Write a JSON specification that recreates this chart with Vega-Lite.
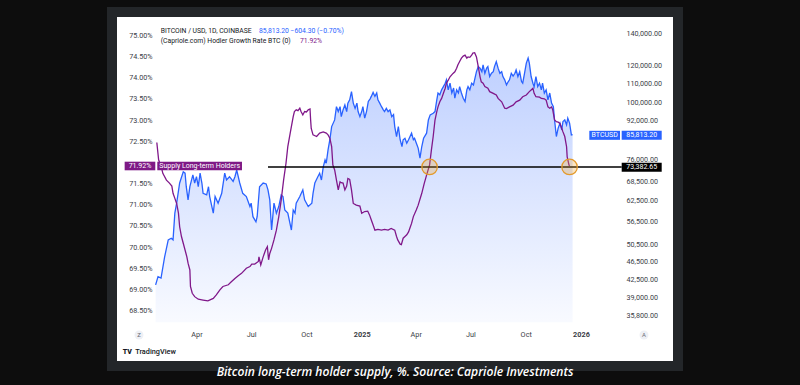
{
  "$schema": "https://vega.github.io/schema/vega-lite/v6.json",
  "width": 566,
  "height": 354,
  "autosize": {"type": "none"},
  "padding": {"left": 112, "top": 12, "right": 122, "bottom": 19},
  "background": "#0d0d0d",
  "config": {
    "view": {"fill": "#ffffff", "stroke": "#232629", "strokeWidth": 10},
    "font": "Roboto",
    "axis": {"zindex": 1, "labelOverlap": false}
  },
  "title": {
    "text": "Bitcoin long-term holder supply, %. Source: Capriole Investments",
    "orient": "bottom",
    "anchor": "middle",
    "frame": "group",
    "color": "#ffffff",
    "font": "Open Sans",
    "fontSize": 12.1,
    "fontStyle": "italic",
    "fontWeight": 600,
    "offset": 0
  },
  "datasets": {
    "btc": [
      {"date":"2024-01-24","price":41500},{"date":"2024-01-28","price":43200},{"date":"2024-02-02","price":42900},{"date":"2024-02-08","price":47500},{"date":"2024-02-14","price":51600},{"date":"2024-02-19","price":52000},{"date":"2024-02-22","price":51600},{"date":"2024-02-25","price":58700},{"date":"2024-02-28","price":61600},{"date":"2024-03-04","price":67900},{"date":"2024-03-10","price":71700},{"date":"2024-03-13","price":71200},{"date":"2024-03-15","price":66700},{"date":"2024-03-18","price":62600},{"date":"2024-03-21","price":66700},{"date":"2024-03-26","price":70600},{"date":"2024-03-29","price":67900},{"date":"2024-04-01","price":70000},{"date":"2024-04-04","price":66700},{"date":"2024-04-07","price":71200},{"date":"2024-04-10","price":67900},{"date":"2024-04-12","price":64600},{"date":"2024-04-18","price":64100},{"date":"2024-04-21","price":66700},{"date":"2024-04-23","price":63600},{"date":"2024-04-29","price":58700},{"date":"2024-05-02","price":63600},{"date":"2024-05-07","price":61600},{"date":"2024-05-13","price":64600},{"date":"2024-05-18","price":71200},{"date":"2024-05-21","price":68900},{"date":"2024-05-26","price":70000},{"date":"2024-06-01","price":68400},{"date":"2024-06-04","price":70000},{"date":"2024-06-07","price":72300},{"date":"2024-06-12","price":67900},{"date":"2024-06-17","price":64600},{"date":"2024-06-23","price":63600},{"date":"2024-06-29","price":60600},{"date":"2024-07-01","price":61600},{"date":"2024-07-04","price":57700},{"date":"2024-07-09","price":56300},{"date":"2024-07-11","price":57700},{"date":"2024-07-15","price":66700},{"date":"2024-07-21","price":67900},{"date":"2024-07-26","price":67600},{"date":"2024-07-29","price":65700},{"date":"2024-08-01","price":62600},{"date":"2024-08-04","price":54100},{"date":"2024-08-08","price":61600},{"date":"2024-08-12","price":58700},{"date":"2024-08-16","price":60600},{"date":"2024-08-20","price":64100},{"date":"2024-08-23","price":63600},{"date":"2024-08-26","price":59600},{"date":"2024-08-31","price":58700},{"date":"2024-09-06","price":54100},{"date":"2024-09-09","price":59600},{"date":"2024-09-12","price":58700},{"date":"2024-09-14","price":61600},{"date":"2024-09-20","price":63600},{"date":"2024-09-25","price":65700},{"date":"2024-09-28","price":62600},{"date":"2024-10-04","price":60600},{"date":"2024-10-10","price":61600},{"date":"2024-10-12","price":64600},{"date":"2024-10-15","price":67900},{"date":"2024-10-20","price":70000},{"date":"2024-10-23","price":71200},{"date":"2024-10-26","price":68900},{"date":"2024-10-29","price":73400},{"date":"2024-11-01","price":75900},{"date":"2024-11-03","price":74700},{"date":"2024-11-06","price":79700},{"date":"2024-11-09","price":83700},{"date":"2024-11-12","price":89200},{"date":"2024-11-17","price":92100},{"date":"2024-11-20","price":98200},{"date":"2024-11-23","price":95900},{"date":"2024-11-26","price":98200},{"date":"2024-11-28","price":93600},{"date":"2024-12-01","price":96700},{"date":"2024-12-04","price":99000},{"date":"2024-12-07","price":95900},{"date":"2024-12-09","price":99900},{"date":"2024-12-12","price":101500},{"date":"2024-12-15","price":105600},{"date":"2024-12-18","price":99900},{"date":"2024-12-21","price":97400},{"date":"2024-12-24","price":99900},{"date":"2024-12-26","price":95900},{"date":"2024-12-29","price":93600},{"date":"2025-01-01","price":95900},{"date":"2025-01-03","price":98200},{"date":"2025-01-06","price":92900},{"date":"2025-01-09","price":95900},{"date":"2025-01-12","price":100700},{"date":"2025-01-15","price":102000},{"date":"2025-01-17","price":103200},{"date":"2025-01-20","price":105200},{"date":"2025-01-23","price":103200},{"date":"2025-01-26","price":104900},{"date":"2025-01-28","price":101500},{"date":"2025-01-31","price":99900},{"date":"2025-02-03","price":98200},{"date":"2025-02-06","price":96700},{"date":"2025-02-08","price":95900},{"date":"2025-02-11","price":97400},{"date":"2025-02-14","price":95900},{"date":"2025-02-17","price":96700},{"date":"2025-02-20","price":93600},{"date":"2025-02-23","price":94500},{"date":"2025-02-25","price":89200},{"date":"2025-02-28","price":85000},{"date":"2025-03-03","price":89200},{"date":"2025-03-06","price":83700},{"date":"2025-03-09","price":81000},{"date":"2025-03-11","price":83700},{"date":"2025-03-14","price":84300},{"date":"2025-03-17","price":82300},{"date":"2025-03-20","price":83700},{"date":"2025-03-25","price":86400},{"date":"2025-03-28","price":83700},{"date":"2025-03-30","price":84300},{"date":"2025-04-02","price":82300},{"date":"2025-04-05","price":80400},{"date":"2025-04-08","price":76600},{"date":"2025-04-11","price":81000},{"date":"2025-04-14","price":84300},{"date":"2025-04-19","price":86400},{"date":"2025-04-22","price":92100},{"date":"2025-04-25","price":94400},{"date":"2025-04-30","price":95100},{"date":"2025-05-03","price":95900},{"date":"2025-05-06","price":101500},{"date":"2025-05-08","price":104900},{"date":"2025-05-11","price":104000},{"date":"2025-05-14","price":106500},{"date":"2025-05-17","price":108200},{"date":"2025-05-20","price":110000},{"date":"2025-05-22","price":111800},{"date":"2025-05-25","price":106500},{"date":"2025-05-28","price":110000},{"date":"2025-05-31","price":104900},{"date":"2025-06-03","price":107500},{"date":"2025-06-05","price":102300},{"date":"2025-06-08","price":106500},{"date":"2025-06-11","price":104900},{"date":"2025-06-13","price":108200},{"date":"2025-06-16","price":104900},{"date":"2025-06-19","price":102300},{"date":"2025-06-22","price":100700},{"date":"2025-06-25","price":106500},{"date":"2025-06-27","price":108200},{"date":"2025-06-30","price":106500},{"date":"2025-07-03","price":110000},{"date":"2025-07-06","price":109100},{"date":"2025-07-11","price":116300},{"date":"2025-07-14","price":119200},{"date":"2025-07-17","price":118300},{"date":"2025-07-20","price":116300},{"date":"2025-07-22","price":120200},{"date":"2025-07-25","price":115400},{"date":"2025-07-28","price":118300},{"date":"2025-07-30","price":119200},{"date":"2025-08-02","price":113600},{"date":"2025-08-05","price":115400},{"date":"2025-08-08","price":116300},{"date":"2025-08-10","price":119200},{"date":"2025-08-13","price":122100},{"date":"2025-08-16","price":118300},{"date":"2025-08-19","price":115400},{"date":"2025-08-22","price":116300},{"date":"2025-08-24","price":113600},{"date":"2025-08-27","price":111800},{"date":"2025-08-30","price":109100},{"date":"2025-09-02","price":110900},{"date":"2025-09-04","price":111800},{"date":"2025-09-07","price":115400},{"date":"2025-09-10","price":113900},{"date":"2025-09-13","price":115400},{"date":"2025-09-15","price":117300},{"date":"2025-09-18","price":113600},{"date":"2025-09-21","price":116300},{"date":"2025-09-24","price":110900},{"date":"2025-09-26","price":110000},{"date":"2025-09-29","price":115400},{"date":"2025-10-02","price":121200},{"date":"2025-10-05","price":124200},{"date":"2025-10-07","price":121200},{"date":"2025-10-10","price":113600},{"date":"2025-10-13","price":110000},{"date":"2025-10-15","price":108200},{"date":"2025-10-18","price":113600},{"date":"2025-10-21","price":108200},{"date":"2025-10-24","price":110000},{"date":"2025-10-27","price":106500},{"date":"2025-10-29","price":110000},{"date":"2025-11-01","price":104900},{"date":"2025-11-04","price":106500},{"date":"2025-11-07","price":101500},{"date":"2025-11-10","price":104900},{"date":"2025-11-13","price":99900},{"date":"2025-11-16","price":98200},{"date":"2025-11-18","price":92100},{"date":"2025-11-21","price":85000},{"date":"2025-11-24","price":88500},{"date":"2025-11-27","price":90700},{"date":"2025-11-30","price":87800},{"date":"2025-12-02","price":91400},{"date":"2025-12-05","price":92100},{"date":"2025-12-08","price":90000},{"date":"2025-12-10","price":92900},{"date":"2025-12-13","price":90700},{"date":"2025-12-16","price":85700},{"date":"2025-12-18","price":85813.2}
    ],
    "lth": [
      {"date":"2024-01-26","supply":72.47},{"date":"2024-01-29","supply":72.06},{"date":"2024-02-03","supply":71.86},{"date":"2024-02-05","supply":71.74},{"date":"2024-02-11","supply":71.58},{"date":"2024-02-16","supply":71.51},{"date":"2024-02-20","supply":71.44},{"date":"2024-02-22","supply":71.27},{"date":"2024-02-25","supply":71.15},{"date":"2024-02-28","supply":71.03},{"date":"2024-03-02","supply":70.8},{"date":"2024-03-04","supply":70.48},{"date":"2024-03-07","supply":70.25},{"date":"2024-03-10","supply":70.09},{"date":"2024-03-16","supply":69.77},{"date":"2024-03-18","supply":69.62},{"date":"2024-03-21","supply":69.46},{"date":"2024-03-22","supply":69.07},{"date":"2024-03-25","supply":68.91},{"date":"2024-03-29","supply":68.83},{"date":"2024-04-04","supply":68.77},{"date":"2024-04-12","supply":68.75},{"date":"2024-04-20","supply":68.73},{"date":"2024-04-29","supply":68.79},{"date":"2024-05-04","supply":68.87},{"date":"2024-05-10","supply":68.99},{"date":"2024-05-15","supply":69.07},{"date":"2024-05-24","supply":69.11},{"date":"2024-05-29","supply":69.18},{"date":"2024-06-04","supply":69.26},{"date":"2024-06-09","supply":69.32},{"date":"2024-06-15","supply":69.38},{"date":"2024-06-23","supply":69.5},{"date":"2024-06-29","supply":69.54},{"date":"2024-07-02","supply":69.6},{"date":"2024-07-07","supply":69.6},{"date":"2024-07-13","supply":69.66},{"date":"2024-07-14","supply":69.77},{"date":"2024-07-17","supply":69.58},{"date":"2024-07-21","supply":69.77},{"date":"2024-07-25","supply":69.93},{"date":"2024-07-28","supply":70.01},{"date":"2024-07-30","supply":69.7},{"date":"2024-08-01","supply":69.85},{"date":"2024-08-04","supply":69.97},{"date":"2024-08-08","supply":70.17},{"date":"2024-08-12","supply":70.4},{"date":"2024-08-16","supply":70.72},{"date":"2024-08-20","supply":71.11},{"date":"2024-08-24","supply":71.58},{"date":"2024-08-28","supply":71.98},{"date":"2024-08-31","supply":72.37},{"date":"2024-09-04","supply":72.69},{"date":"2024-09-09","supply":73.08},{"date":"2024-09-11","supply":73.2},{"date":"2024-09-14","supply":73.24},{"date":"2024-09-17","supply":73.22},{"date":"2024-09-20","supply":73.28},{"date":"2024-09-22","supply":73.2},{"date":"2024-09-25","supply":73.12},{"date":"2024-09-28","supply":73.2},{"date":"2024-10-01","supply":73.19},{"date":"2024-10-04","supply":73.24},{"date":"2024-10-07","supply":73.26},{"date":"2024-10-08","supply":73.0},{"date":"2024-10-09","supply":72.8},{"date":"2024-10-12","supply":72.65},{"date":"2024-10-18","supply":72.61},{"date":"2024-10-23","supply":72.69},{"date":"2024-10-29","supply":72.72},{"date":"2024-11-03","supply":72.69},{"date":"2024-11-06","supply":72.65},{"date":"2024-11-09","supply":72.57},{"date":"2024-11-12","supply":72.37},{"date":"2024-11-14","supply":71.94},{"date":"2024-11-17","supply":71.82},{"date":"2024-11-20","supply":71.58},{"date":"2024-11-23","supply":71.35},{"date":"2024-11-26","supply":71.54},{"date":"2024-11-28","supply":71.52},{"date":"2024-12-01","supply":71.51},{"date":"2024-12-04","supply":71.35},{"date":"2024-12-07","supply":71.44},{"date":"2024-12-09","supply":71.62},{"date":"2024-12-12","supply":71.6},{"date":"2024-12-15","supply":71.35},{"date":"2024-12-18","supply":71.03},{"date":"2024-12-23","supply":70.99},{"date":"2024-12-29","supply":70.97},{"date":"2025-01-01","supply":70.8},{"date":"2025-01-06","supply":70.84},{"date":"2025-01-11","supply":70.85},{"date":"2025-01-14","supply":70.76},{"date":"2025-01-17","supply":70.64},{"date":"2025-01-20","supply":70.52},{"date":"2025-01-23","supply":70.4},{"date":"2025-01-28","supply":70.42},{"date":"2025-02-03","supply":70.4},{"date":"2025-02-08","supply":70.42},{"date":"2025-02-14","supply":70.4},{"date":"2025-02-19","supply":70.44},{"date":"2025-02-25","supply":70.4},{"date":"2025-02-28","supply":70.25},{"date":"2025-03-02","supply":70.17},{"date":"2025-03-06","supply":70.07},{"date":"2025-03-08","supply":70.06},{"date":"2025-03-11","supply":70.21},{"date":"2025-03-14","supply":70.25},{"date":"2025-03-17","supply":70.29},{"date":"2025-03-20","supply":70.36},{"date":"2025-03-22","supply":70.44},{"date":"2025-03-25","supply":70.56},{"date":"2025-03-28","supply":70.72},{"date":"2025-04-02","supply":70.88},{"date":"2025-04-05","supply":70.99},{"date":"2025-04-11","supply":71.27},{"date":"2025-04-15","supply":71.5},{"date":"2025-04-19","supply":71.7},{"date":"2025-04-24","supply":71.94},{"date":"2025-04-27","supply":72.29},{"date":"2025-04-30","supply":72.61},{"date":"2025-05-03","supply":73.0},{"date":"2025-05-06","supply":73.2},{"date":"2025-05-08","supply":73.31},{"date":"2025-05-11","supply":73.43},{"date":"2025-05-14","supply":73.51},{"date":"2025-05-17","supply":73.63},{"date":"2025-05-20","supply":73.75},{"date":"2025-05-22","supply":73.87},{"date":"2025-05-25","supply":73.94},{"date":"2025-05-28","supply":74.02},{"date":"2025-06-02","supply":74.1},{"date":"2025-06-05","supply":74.14},{"date":"2025-06-08","supply":74.22},{"date":"2025-06-10","supply":74.3},{"date":"2025-06-13","supply":74.38},{"date":"2025-06-16","supply":74.46},{"date":"2025-06-19","supply":74.51},{"date":"2025-06-22","supply":74.53},{"date":"2025-06-25","supply":74.46},{"date":"2025-06-27","supply":74.49},{"date":"2025-06-30","supply":74.48},{"date":"2025-07-03","supply":74.53},{"date":"2025-07-05","supply":74.58},{"date":"2025-07-08","supply":74.59},{"date":"2025-07-11","supply":74.49},{"date":"2025-07-14","supply":74.26},{"date":"2025-07-17","supply":74.02},{"date":"2025-07-19","supply":73.9},{"date":"2025-07-22","supply":73.87},{"date":"2025-07-25","supply":73.79},{"date":"2025-07-30","supply":73.75},{"date":"2025-08-02","supply":73.67},{"date":"2025-08-08","supply":73.63},{"date":"2025-08-13","supply":73.59},{"date":"2025-08-16","supply":73.51},{"date":"2025-08-22","supply":73.43},{"date":"2025-08-27","supply":73.28},{"date":"2025-08-30","supply":73.27},{"date":"2025-09-04","supply":73.31},{"date":"2025-09-10","supply":73.35},{"date":"2025-09-15","supply":73.43},{"date":"2025-09-21","supply":73.47},{"date":"2025-09-26","supply":73.55},{"date":"2025-10-02","supply":73.59},{"date":"2025-10-07","supply":73.67},{"date":"2025-10-10","supply":73.71},{"date":"2025-10-13","supply":73.75},{"date":"2025-10-15","supply":73.63},{"date":"2025-10-18","supply":73.55},{"date":"2025-10-24","supply":73.54},{"date":"2025-10-27","supply":73.51},{"date":"2025-11-01","supply":73.5},{"date":"2025-11-04","supply":73.47},{"date":"2025-11-07","supply":73.31},{"date":"2025-11-10","supply":73.28},{"date":"2025-11-13","supply":73.31},{"date":"2025-11-15","supply":73.24},{"date":"2025-11-18","supply":73.0},{"date":"2025-11-21","supply":72.96},{"date":"2025-11-24","supply":72.95},{"date":"2025-11-27","supply":72.92},{"date":"2025-11-30","supply":72.8},{"date":"2025-12-02","supply":72.72},{"date":"2025-12-05","supply":72.61},{"date":"2025-12-08","supply":72.37},{"date":"2025-12-09","supply":72.13},{"date":"2025-12-12","supply":71.94},{"date":"2025-12-13","supply":71.92}
    ]
  },
  "resolve": {"scale": {"y": "independent"}},
  "layer": [
    {
      "data": {"name": "btc"},
      "layer": [
        {
          "mark": {
            "type": "area",
            "line": false,
            "color": {"x1": 0, "y1": 0, "x2": 0, "y2": 1, "gradient": "linear",
              "stops": [{"offset": 0, "color": "rgba(41,98,255,0.30)"}, {"offset": 1, "color": "rgba(41,98,255,0.03)"}]}
          },
          "encoding": {
            "x": {"field": "date", "type": "temporal",
              "scale": {"type": "utc", "nice": false, "domain": [{"year": 2023, "month": 11, "date": 12, "hours": 9, "minutes": 36, "utc": true}, {"year": 2026, "month": 6, "date": 11, "hours": 11, "utc": true}]},
              "axis": {
                "orient": "bottom", "title": null, "domain": false, "ticks": false, "grid": false,
                "labelPadding": -36, "labelFontSize": 7.3, "labelColor": "#3a3d46", "labelFont": "Roboto",
                "labelFlush": false, "labelOverlap": false, "zindex": 1, "tickCount": 30,
                "values": [
                  {"year": 2024, "month": 4, "date": 1, "utc": true}, {"year": 2024, "month": 7, "date": 1, "utc": true},
                  {"year": 2024, "month": 10, "date": 1, "utc": true}, {"year": 2025, "month": 1, "date": 1, "utc": true},
                  {"year": 2025, "month": 4, "date": 1, "utc": true}, {"year": 2025, "month": 7, "date": 1, "utc": true},
                  {"year": 2025, "month": 10, "date": 1, "utc": true}, {"year": 2026, "month": 1, "date": 1, "utc": true}
                ],
                "labelExpr": "utcmonth(datum.value) === 0 ? utcFormat(datum.value, '%Y') : utcFormat(datum.value, '%b')",
                "labelFontWeight": {"condition": {"test": "utcmonth(datum.value) === 0", "value": "bold"}, "value": "normal"}
              }
            },
            "y": {"field": "price", "type": "quantitative",
              "scale": {"type": "log", "nice": false, "domain": [28040, 155180]},
              "axis": {
                "orient": "right", "title": null, "domain": false, "ticks": false, "grid": false,
                "labelPadding": -52, "labelFontSize": 7.2, "labelColor": "#3a3d46", "labelFont": "Roboto", "labelAlign": "left",
                "labelOverlap": false, "labelFlush": false, "format": ",.2f", "zindex": 1, "tickCount": 30,
                "values": [35800, 39000, 42500, 46500, 50500, 56500, 62500, 68500, 76000, 92000, 100000, 110000, 120000, 140000]
              }
            },
            "y2": {"datum": 34660}
          }
        },
        {
          "mark": {"type": "line", "color": "#2962ff", "strokeWidth": 1.3},
          "encoding": {
            "x": {"field": "date", "type": "temporal"},
            "y": {"field": "price", "type": "quantitative"}
          }
        }
      ]
    },
    {
      "layer": [
        {
          "data": {"name": "lth"},
          "mark": {"type": "line", "color": "#80188a", "strokeWidth": 1.3},
          "encoding": {
            "x": {"field": "date", "type": "temporal"},
            "y": {"field": "supply", "type": "quantitative",
              "scale": {"type": "linear", "zero": false, "nice": false, "domain": [67.193, 75.55]},
              "axis": {
                "orient": "left", "title": null, "domain": false, "ticks": false, "grid": false,
                "labelPadding": -40, "labelFontSize": 7.2, "labelColor": "#3a3d46", "labelFont": "Roboto", "labelAlign": "right",
                "labelOverlap": false, "labelFlush": false, "zindex": 1, "tickCount": 30,
                "values": [68.5, 69, 69.5, 70, 70.5, 71, 71.5, 72.5, 73, 73.5, 74, 74.5, 75],
                "labelExpr": "format(datum.value, '.2f') + '%'"
              }
            }
          }
        },
        {
          "data": {"values": [{}]},
          "mark": {"type": "rect", "color": "#7e1a86"},
          "encoding": {
            "x": {"datum": {"year": 2023, "month": 12, "date": 3, "hours": 11, "utc": true}, "type": "temporal"},
            "x2": {"datum": {"year": 2024, "month": 1, "date": 23, "hours": 11, "utc": true}},
            "y": {"datum": 71.813, "type": "quantitative"},
            "y2": {"datum": 72.016}
          }
        },
        {
          "data": {"values": [{}]},
          "mark": {"type": "rect", "color": "#7e1a86"},
          "encoding": {
            "x": {"datum": {"year": 2024, "month": 1, "date": 26, "hours": 19, "utc": true}, "type": "temporal"},
            "x2": {"datum": {"year": 2024, "month": 6, "date": 15, "hours": 18, "utc": true}},
            "y": {"datum": 71.813, "type": "quantitative"},
            "y2": {"datum": 72.016}
          }
        },
        {
          "data": {"values": [{}]},
          "mark": {"type": "text", "text": "71.92%", "color": "#ffffff", "fontSize": 7, "align": "center", "baseline": "middle"},
          "encoding": {
            "x": {"datum": {"year": 2023, "month": 12, "date": 29, "utc": true}, "type": "temporal"},
            "y": {"datum": 71.915, "type": "quantitative"}
          }
        },
        {
          "data": {"values": [{}]},
          "mark": {"type": "text", "text": "Supply Long-term Holders", "color": "#ffffff", "fontSize": 7, "align": "center", "baseline": "middle"},
          "encoding": {
            "x": {"datum": {"year": 2024, "month": 4, "date": 6, "hours": 7, "utc": true}, "type": "temporal"},
            "y": {"datum": 71.915, "type": "quantitative"}
          }
        },
        {
          "data": {"values": [{}]},
          "mark": {"type": "text", "text": "BITCOIN / USD, 1D, COINBASE", "color": "#131722", "fontSize": 6.8, "align": "left", "baseline": "middle"},
          "encoding": {
            "x": {"datum": {"year": 2024, "month": 2, "date": 1, "hours": 11, "utc": true}, "type": "temporal"},
            "y": {"datum": 75.109, "type": "quantitative"}
          }
        },
        {
          "data": {"values": [{}]},
          "mark": {"type": "text", "text": "85,813.20  −604.30 (−0.70%)", "color": "#2962ff", "fontSize": 6.8, "align": "left", "baseline": "middle"},
          "encoding": {
            "x": {"datum": {"year": 2024, "month": 7, "date": 14, "hours": 2, "utc": true}, "type": "temporal"},
            "y": {"datum": 75.109, "type": "quantitative"}
          }
        },
        {
          "data": {"values": [{}]},
          "mark": {"type": "text", "text": "(Capriole.com) Hodler Growth Rate BTC (0)", "color": "#131722", "fontSize": 6.8, "align": "left", "baseline": "middle"},
          "encoding": {
            "x": {"datum": {"year": 2024, "month": 2, "date": 1, "hours": 11, "utc": true}, "type": "temporal"},
            "y": {"datum": 74.873, "type": "quantitative"}
          }
        },
        {
          "data": {"values": [{}]},
          "mark": {"type": "text", "text": "71.92%", "color": "#80188a", "fontSize": 6.8, "align": "left", "baseline": "middle"},
          "encoding": {
            "x": {"datum": {"year": 2024, "month": 9, "date": 20, "hours": 7, "utc": true}, "type": "temporal"},
            "y": {"datum": 74.873, "type": "quantitative"}
          }
        },
        {
          "data": {"values": [{}]},
          "mark": {"type": "text", "text": "TV", "color": "#131722", "fontSize": 7, "fontWeight": 900, "align": "left", "baseline": "middle"},
          "encoding": {
            "x": {"datum": {"year": 2023, "month": 11, "date": 30, "hours": 5, "utc": true}, "type": "temporal"},
            "y": {"datum": 67.524, "type": "quantitative"}
          }
        },
        {
          "data": {"values": [{}]},
          "mark": {"type": "text", "text": "TradingView", "color": "#131722", "fontSize": 7.3, "fontWeight": 500, "align": "left", "baseline": "middle"},
          "encoding": {
            "x": {"datum": {"year": 2023, "month": 12, "date": 21, "utc": true}, "type": "temporal"},
            "y": {"datum": 67.524, "type": "quantitative"}
          }
        },
        {
          "data": {"values": [{"button": "Z", "date": "2023-12-27T08:00:00Z"}, {"button": "A", "date": "2026-04-15T20:00:00Z"}]},
          "mark": {"type": "point", "shape": "circle", "filled": true, "color": "#eef0f5", "opacity": 1, "size": 80},
          "encoding": {
            "x": {"field": "date", "type": "temporal"},
            "y": {"datum": 67.925, "type": "quantitative"}
          }
        },
        {
          "data": {"values": [{"button": "Z", "date": "2023-12-27T08:00:00Z"}, {"button": "A", "date": "2026-04-15T20:00:00Z"}]},
          "mark": {"type": "text", "color": "#6a6d78", "fontSize": 6, "align": "center", "baseline": "middle"},
          "encoding": {
            "x": {"field": "date", "type": "temporal"},
            "y": {"datum": 67.925, "type": "quantitative"},
            "text": {"field": "button"}
          }
        }
      ]
    },
    {
      "layer": [
        {
          "data": {"values": [{}]},
          "mark": {"type": "rule", "color": "#000000", "strokeWidth": 1.6},
          "encoding": {
            "x": {"datum": {"year": 2024, "month": 7, "date": 29, "utc": true}, "type": "temporal"},
            "x2": {"datum": {"year": 2026, "month": 3, "date": 9, "hours": 18, "utc": true}},
            "y": {"datum": 73382.65, "type": "quantitative", "scale": {"type": "log", "nice": false, "domain": [28040, 155180]}, "axis": null}
          }
        },
        {
          "data": {"values": [{"date": "2025-04-24", "price": 73382.65}, {"date": "2025-12-13", "price": 73382.65}]},
          "mark": {"type": "point", "shape": "circle", "filled": true, "fill": "#f5a623", "fillOpacity": 0.28, "stroke": "#e39a2c", "strokeWidth": 1.3, "strokeOpacity": 1, "opacity": 1, "size": 240},
          "encoding": {
            "x": {"field": "date", "type": "temporal"},
            "y": {"field": "price", "type": "quantitative", "axis": null}
          }
        },
        {
          "data": {"values": [{}]},
          "mark": {"type": "rect", "color": "#2962ff"},
          "encoding": {
            "x": {"datum": {"year": 2026, "month": 1, "date": 14, "hours": 20, "utc": true}, "type": "temporal"},
            "x2": {"datum": {"year": 2026, "month": 3, "date": 6, "hours": 22, "utc": true}},
            "y": {"datum": 83660, "type": "quantitative", "axis": null},
            "y2": {"datum": 87380}
          }
        },
        {
          "data": {"values": [{}]},
          "mark": {"type": "rect", "color": "#2962ff"},
          "encoding": {
            "x": {"datum": {"year": 2026, "month": 3, "date": 9, "hours": 18, "utc": true}, "type": "temporal"},
            "x2": {"datum": {"year": 2026, "month": 5, "date": 15, "hours": 8, "utc": true}},
            "y": {"datum": 83660, "type": "quantitative", "axis": null},
            "y2": {"datum": 87380}
          }
        },
        {
          "data": {"values": [{}]},
          "mark": {"type": "rect", "color": "#000000"},
          "encoding": {
            "x": {"datum": {"year": 2026, "month": 3, "date": 9, "hours": 18, "utc": true}, "type": "temporal"},
            "x2": {"datum": {"year": 2026, "month": 5, "date": 15, "hours": 8, "utc": true}},
            "y": {"datum": 71740, "type": "quantitative", "axis": null},
            "y2": {"datum": 74930}
          }
        },
        {
          "data": {"values": [{}]},
          "mark": {"type": "text", "text": "BTCUSD", "color": "#ffffff", "fontSize": 7, "align": "center", "baseline": "middle"},
          "encoding": {
            "x": {"datum": {"year": 2026, "month": 2, "date": 9, "hours": 9, "utc": true}, "type": "temporal"},
            "y": {"datum": 85500, "type": "quantitative", "axis": null}
          }
        },
        {
          "data": {"values": [{}]},
          "mark": {"type": "text", "text": "85,813.20", "color": "#ffffff", "fontSize": 7, "align": "center", "baseline": "middle"},
          "encoding": {
            "x": {"datum": {"year": 2026, "month": 4, "date": 12, "hours": 1, "utc": true}, "type": "temporal"},
            "y": {"datum": 85500, "type": "quantitative", "axis": null}
          }
        },
        {
          "data": {"values": [{}]},
          "mark": {"type": "text", "text": "73,382.65", "color": "#ffffff", "fontSize": 7, "align": "center", "baseline": "middle"},
          "encoding": {
            "x": {"datum": {"year": 2026, "month": 4, "date": 12, "hours": 1, "utc": true}, "type": "temporal"},
            "y": {"datum": 73318, "type": "quantitative", "axis": null}
          }
        }
      ]
    }
  ]
}
